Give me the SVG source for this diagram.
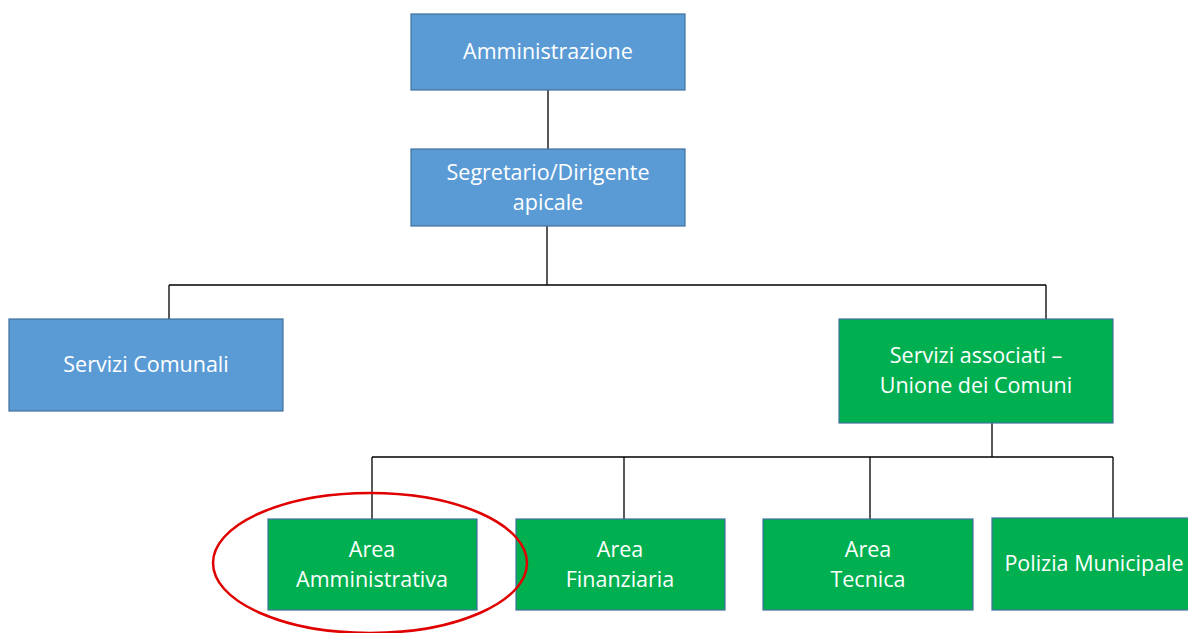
<svg xmlns="http://www.w3.org/2000/svg" width="1188" height="633" viewBox="0 0 1188 633">
<style>
.blue{fill:#5B9BD5;stroke:#41719C;stroke-width:1.2}
.green{fill:#00B050;stroke:#41719C;stroke-width:1.2}
.t{font-family:"Open Sans",Lato,"Liberation Sans",sans-serif;font-size:21.5px;fill:#fff;text-anchor:middle}
.c{stroke:#000;stroke-width:1.3;fill:none}
</style>
<rect width="1188" height="633" fill="#fff"/>
<g id="connectors">
<path class="c" d="M548 90V149M547 226V285M169 285H1046M169 285V319M1046 285V319M992 423V457M372 457H1113M372 457V519M624 457V519M870 457V525M1113 457V524"/>
</g>
<g id="amministrazione"><rect class="blue" x="411" y="14" width="274" height="76"/><text class="t" x="548" y="59">Amministrazione</text></g>
<g id="segretario"><rect class="blue" x="411" y="149" width="274" height="77"/><text class="t" x="548" y="180">Segretario/Dirigente</text><text class="t" x="548" y="210">apicale</text></g>
<g id="servizi-comunali"><rect class="blue" x="9" y="319" width="274" height="92"/><text class="t" x="146" y="372">Servizi Comunali</text></g>
<g id="servizi-associati"><rect class="green" x="839" y="319" width="274" height="104"/><text class="t" x="976" y="363">Servizi associati –</text><text class="t" x="976" y="393">Unione dei Comuni</text></g>
<g id="area-amministrativa"><rect class="green" x="268" y="519" width="209" height="91"/><text class="t" x="372" y="557">Area</text><text class="t" x="372" y="587">Amministrativa</text></g>
<g id="area-finanziaria"><rect class="green" x="516" y="519" width="209" height="91"/><text class="t" x="620" y="557">Area</text><text class="t" x="620" y="587">Finanziaria</text></g>
<g id="area-tecnica"><rect class="green" x="763" y="519" width="210" height="91"/><text class="t" x="868" y="557">Area</text><text class="t" x="868" y="587">Tecnica</text></g>
<g id="polizia-municipale"><rect class="green" x="992" y="518" width="205" height="92"/><text class="t" x="1094" y="571">Polizia Municipale</text></g>
<ellipse cx="370" cy="563" rx="157" ry="70" fill="none" stroke="#E00000" stroke-width="2.5"/>
</svg>
